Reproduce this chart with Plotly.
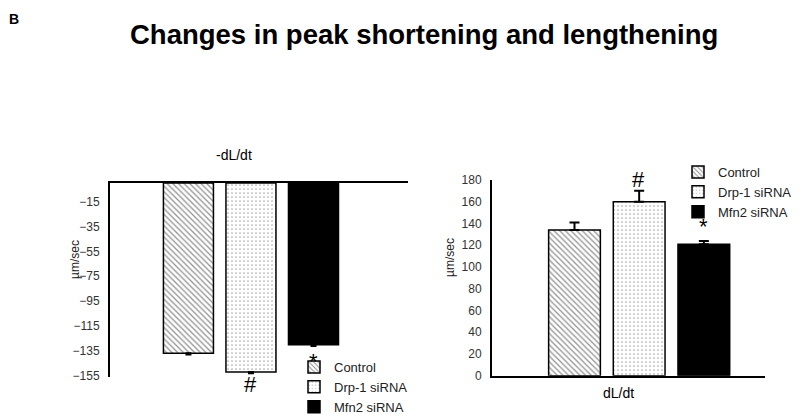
import plotly.graph_objects as go

# ---- data ----
groups = ["Control", "Drp-1 siRNA", "Mfn2 siRNA"]
neg_values = [-137, -152, -130]          # -dL/dt (µm/sec)
neg_err = [1, 1, 1]
pos_values = [134, 160, 121]             # dL/dt (µm/sec)
pos_err = [7, 10, 3]
left_ticks = [-15, -35, -55, -75, -95, -115, -135, -155]
right_ticks = [0, 20, 40, 60, 80, 100, 120, 140, 160, 180]

patterns = [
    dict(shape="\\", size=4, solidity=0.35, fgcolor="#333333", bgcolor="white"),
    dict(shape=".", size=4, solidity=0.15, fgcolor="#555555", bgcolor="white"),
    dict(shape="", fgcolor="black", bgcolor="black"),
]
fills = ["white", "white", "black"]

W, H = 800, 415
def px(x): return x / W
def py(y): return 1 - y / H

fig = go.Figure()
for i, g in enumerate(groups):
    fig.add_trace(go.Bar(
        x=["-dL/dt"], y=[neg_values[i]], name=g,
        marker=dict(color=fills[i], pattern=patterns[i],
                    line=dict(color="black", width=1.5)),
        error_y=dict(type="data", symmetric=False, array=[0], arrayminus=[neg_err[i]],
                     color="black", thickness=2, width=3),
        xaxis="x", yaxis="y", legend="legend", showlegend=True))
for i, g in enumerate(groups):
    fig.add_trace(go.Bar(
        x=["dL/dt"], y=[pos_values[i]], name=g,
        marker=dict(color=fills[i], pattern=patterns[i],
                    line=dict(color="black", width=1.5)),
        error_y=dict(type="data", symmetric=False, array=[pos_err[i]], arrayminus=[0],
                     color="black", thickness=2, width=5),
        xaxis="x2", yaxis="y2", legend="legend2", showlegend=True))

font = "Liberation Sans, Arial, sans-serif"
fig.update_layout(
    width=W, height=H, margin=dict(l=0, r=0, t=0, b=0, autoexpand=False),
    paper_bgcolor="white", plot_bgcolor="white",
    font=dict(family=font, size=12, color="#222222"),
    barmode="group", bargap=0.3, bargroupgap=0.2,
    xaxis=dict(domain=[px(110), px(408)], range=[-0.526, 0.586], side="top",
               showline=True, linecolor="black", linewidth=2, showticklabels=False,
               ticks="", showgrid=False, zeroline=False, anchor="y"),
    yaxis=dict(domain=[py(377), py(183)], range=[-156, 0], tickvals=left_ticks,
               showline=True, linecolor="black", linewidth=2, ticks="",
               ticklabelstandoff=6, showgrid=False, zeroline=False, anchor="x",
               tickfont=dict(size=12, color="#333333")),
    xaxis2=dict(domain=[px(492), px(765)], range=[-0.531, 0.454],
                showline=True, linecolor="black", linewidth=2, showticklabels=False,
                ticks="", showgrid=False, zeroline=False, anchor="y2"),
    yaxis2=dict(domain=[py(375.7), py(180)], range=[0, 180], tickvals=right_ticks,
                showline=True, linecolor="black", linewidth=2, ticks="",
                ticklabelstandoff=6, showgrid=False, zeroline=False, anchor="x2",
                tickfont=dict(size=12, color="#333333")),
    legend=dict(x=px(294), y=py(352), xanchor="left", yanchor="top",
                bgcolor="rgba(0,0,0,0)", font=dict(size=13, color="#222222"),
                traceorder="normal"),
    legend2=dict(x=px(678), y=py(157), xanchor="left", yanchor="top",
                 bgcolor="rgba(0,0,0,0)", font=dict(size=13, color="#222222"),
                 traceorder="normal"),
)

ann = [
    dict(text="<b>B</b>", x=px(14), y=py(19), size=14),
    dict(text="<b>Changes in peak shortening and lengthening</b>", x=px(424), y=py(35), size=27.5),
    dict(text="-dL/dt", x=px(234), y=py(155), size=14),
    dict(text="dL/dt", x=px(618), y=py(393), size=14),
    dict(text="#", x=px(251), y=py(384), size=22),
    dict(text="*", x=px(313), y=py(361), size=22),
    dict(text="#", x=px(638), y=py(179), size=22),
    dict(text="*", x=px(703), y=py(226), size=22),
]
for a in ann:
    fig.add_annotation(text=a["text"], x=a["x"], y=a["y"], xref="paper", yref="paper",
                       xanchor="center", yanchor="middle", showarrow=False,
                       font=dict(size=a["size"], color="black", family=font))
fig.add_annotation(text="µm/sec", x=px(66), y=py(260), xref="paper", yref="paper",
                   textangle=-90, showarrow=False, font=dict(size=12, color="#222222"))
fig.add_annotation(text="µm/sec", x=px(450), y=py(258), xref="paper", yref="paper",
                   textangle=-90, showarrow=False, font=dict(size=12, color="#222222"))

fig.write_html("out.html", config={"displayModeBar": False},
               post_script="document.body.style.margin='0';document.body.style.padding='0';"
                           "document.body.style.overflow='hidden';")
